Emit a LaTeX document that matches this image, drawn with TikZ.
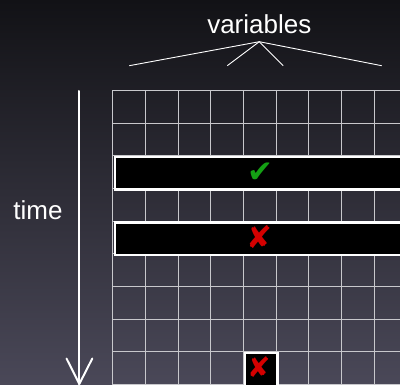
\documentclass[tikz,border=0pt]{standalone}
\usepackage{fontspec}
\setmainfont{Liberation Sans}
\newfontfamily\symfont{DejaVu Sans}
\definecolor{bgtop}{HTML}{121216}
\definecolor{bgbot}{HTML}{4A4858}
\definecolor{gridc}{HTML}{C8C8CC}
\definecolor{okgreen}{HTML}{14A014}
\definecolor{badred}{HTML}{D40000}
\begin{document}
\begin{tikzpicture}[x=1pt,y=-1pt,
  lbl/.style={text=white,font=\fontsize{26}{30}\selectfont,inner sep=0pt},
  gridline/.style={gridc,line width=0.9pt},
  bar/.style={fill=black,draw=white,line width=2.5pt},
  symb/.style={font=\symfont\fontsize{31}{33}\selectfont,inner sep=0pt},
  thinline/.style={white,line width=0.9pt},
  arr/.style={white,line width=2pt,line cap=round,line join=round}]
\useasboundingbox (0,0) rectangle (400,385);
\shade[top color=bgtop,bottom color=bgbot] (0,0) rectangle (400,385);
\clip (0,0) rectangle (400,385);
% grid
\foreach \k in {0,...,8}
  \draw[gridline] ({112.7+\k*32.7},90.3) -- ({112.7+\k*32.7},386);
\foreach \j in {0,...,9}
  \draw[gridline] (112.7,{90.3+\j*32.7}) -- (402,{90.3+\j*32.7});
% highlighted rows / cell
\node[bar,minimum width=292pt,minimum height=32.5pt,anchor=north west] (row1) at (113.5,155.7) {};
\node[bar,minimum width=292pt,minimum height=32.5pt,anchor=north west] (row2) at (113.5,221.1) {};
\node[bar,minimum width=32.7pt,minimum height=35pt,anchor=north west] (cell) at (243.5,351.8) {};
\node[symb,text=okgreen] (ok) at (260,172.5) {✔};
\node[symb,text=badred] (bad1) at (259,237.5) {✘};
\node[symb,text=badred,font=\symfont\fontsize{28}{30}\selectfont] (bad2) at (258.8,367.5) {✘};
% labels
\node[lbl,anchor=base] (vars) at (259.3,33.3) {variables};
\node[lbl,anchor=base] (time) at (38,219.5) {time};
% variable brace lines
\coordinate (apex) at (259.3,41.7);
\coordinate (v1) at (129.3,65.7);
\coordinate (v2) at (227.3,65.7);
\coordinate (v3) at (283.3,65.7);
\coordinate (v4) at (381.7,65.7);
\draw[thinline] (v1) -- (apex) -- (v4);
\draw[thinline] (v2) -- (apex) -- (v3);
% time arrow
\coordinate (tstart) at (79.3,91);
\coordinate (ttip) at (79.3,384);
\coordinate (tl) at (66.5,358.5);
\coordinate (tr) at (92.3,358.5);
\draw[arr] (tstart) -- (ttip);
\draw[arr] (tl) -- (ttip) -- (tr);
\end{tikzpicture}
\end{document}
